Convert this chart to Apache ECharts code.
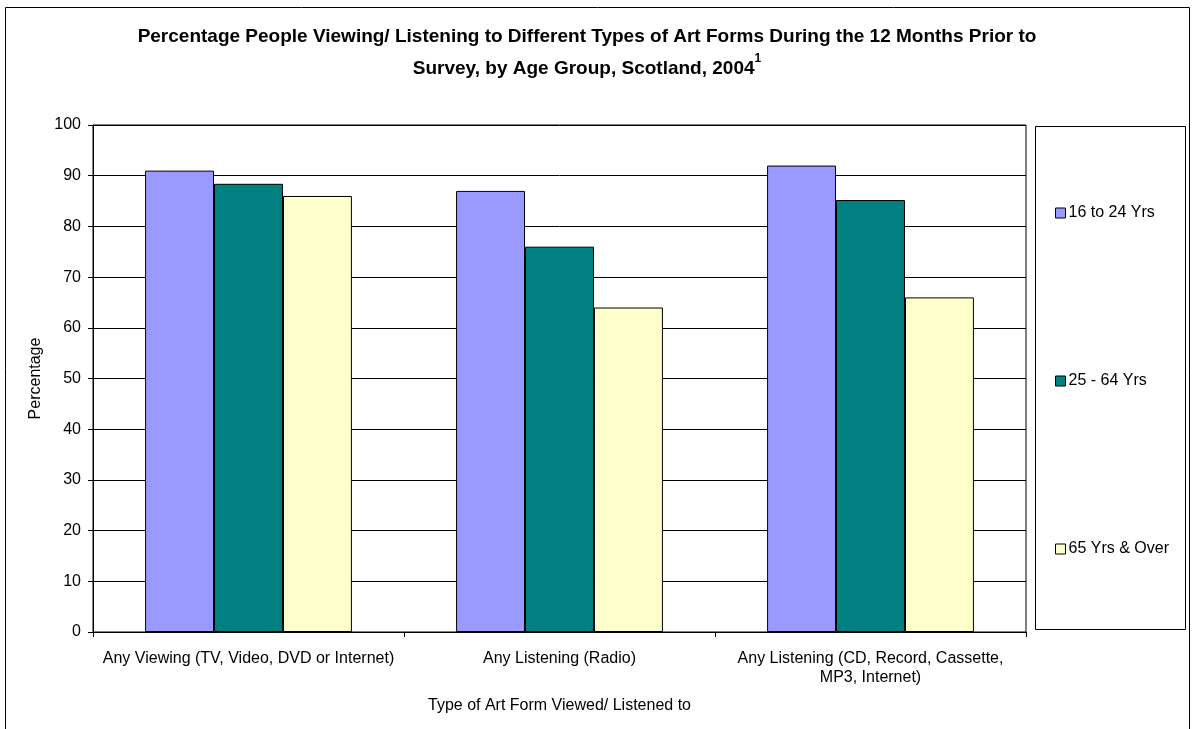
<!DOCTYPE html>
<html>
<head>
<meta charset="utf-8">
<script src="https://cdn.jsdelivr.net/npm/echarts@6/dist/echarts.min.js"></script>
<style>html,body{margin:0;padding:0;background:#fff}#c{width:1192px;height:729px}</style>
</head>
<body>
<div id="c"></div>
<script>
const categories = ["Any Viewing (TV, Video, DVD or Internet)", "Any Listening (Radio)", "Any Listening (CD, Record, Cassette,\nMP3, Internet)"];
const seriesNames = ["16 to 24 Yrs", "25 - 64 Yrs", "65 Yrs & Over"];
const age16to24 = [91, 87, 92];
const age25to64 = [88.4, 76, 85.2];
const age65over = [86, 64, 66];
const yTicks = [0, 10, 20, 30, 40, 50, 60, 70, 80, 90, 100];

const colors = ['#9999FF', '#008080', '#FFFFCC'];
const font = '"Liberation Sans", Arial, sans-serif';
const chart = echarts.init(document.getElementById('c'));
const values = [age16to24, age25to64, age65over];
chart.setOption({
  animation: false,
  backgroundColor: '#fff',
  title: {
    text: '{t|Percentage People Viewing/ Listening to Different Types of Art Forms During the 12 Months Prior to}\n{t|Survey, by Age Group, Scotland, 2004}{s|1}',
    left: 582, top: 16, textAlign: 'center',
    textStyle: {
      rich: {
        t: {fontFamily: font, fontSize: 19, fontWeight: 'bold', color: '#000', lineHeight: 32},
        s: {fontFamily: font, fontSize: 12, fontWeight: 'bold', color: '#000', verticalAlign: 'top', lineHeight: 17}
      }
    }
  },
  graphic: [
    {type: 'rect', shape: {x: 5.5, y: 7.5, width: 1184, height: 740}, style: {fill: 'none', stroke: '#000', lineWidth: 1}, z: -1},
    {type: 'rect', shape: {x: 1035.5, y: 126.5, width: 150, height: 503}, style: {fill: '#fff', stroke: '#000', lineWidth: 1}, z: 0}
  ],
  legend: {
    orient: 'vertical', left: 1050, top: 200, itemGap: 152,
    itemWidth: 10, itemHeight: 10, icon: 'rect',
    textStyle: {fontFamily: font, fontSize: 16, color: '#000', padding: [0,0,0,-2]},
    itemStyle: {borderColor: '#000', borderWidth: 1},
    data: seriesNames
  },
  grid: {left: 93, right: 166, top: 125, bottom: 97, show: true, borderColor: '#000', borderWidth: 1, containLabel: false},
  xAxis: {
    type: 'category', data: categories,
    axisLine: {lineStyle: {color: '#000'}},
    axisTick: {show: true, length: 5, lineStyle: {color: '#000'}},
    axisLabel: {fontFamily: font, fontSize: 16, color: '#000', margin: 17, interval: 0, lineHeight: 19},
    name: 'Type of Art Form Viewed/ Listened to', nameLocation: 'middle', nameGap: 66,
    nameTextStyle: {fontFamily: font, fontSize: 16, color: '#000'}
  },
  yAxis: {
    type: 'value', min: 0, max: 100, interval: 10,
    axisLine: {show: true, lineStyle: {color: '#000'}},
    axisTick: {show: true, length: 5, lineStyle: {color: '#000'}},
    axisLabel: {fontFamily: font, fontSize: 16, color: '#000', margin: 12, formatter: v => yTicks.includes(v) ? String(v) : ''},
    splitLine: {show: true, lineStyle: {color: '#000', width: 1}},
    name: 'Percentage', nameLocation: 'middle', nameGap: 48, nameRotate: 90,
    nameTextStyle: {fontFamily: font, fontSize: 16, color: '#000'}
  },
  series: seriesNames.map((n, i) => ({
    name: n, type: 'bar', data: values[i],
    barGap: '0%', barCategoryGap: '33.5%',
    itemStyle: {color: colors[i], borderColor: '#000', borderWidth: 1}
  }))
});
</script>
</body>
</html>
